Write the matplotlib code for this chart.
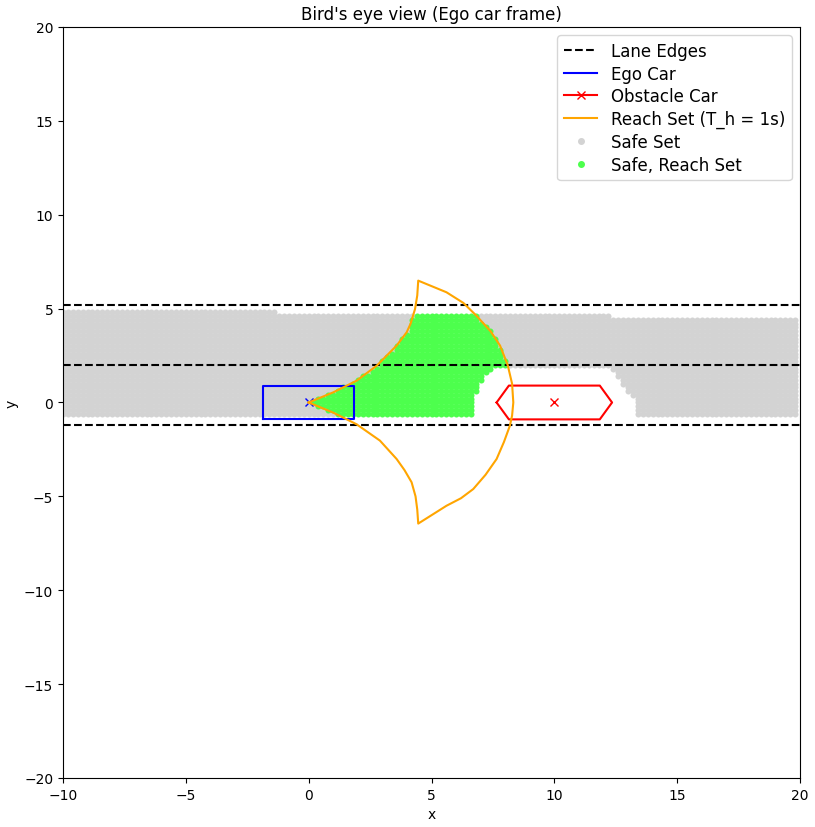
import matplotlib
matplotlib.use("Agg")
import matplotlib.pyplot as plt
import numpy as np
from matplotlib.path import Path
from matplotlib.lines import Line2D

# lane edges (y)
lane_edges = [5.2, 2.0, -1.2]

# ego car box
ego_x = [-1.85, 1.85, 1.85, -1.85, -1.85]
ego_y = [-0.9, -0.9, 0.9, 0.9, -0.9]

# obstacle car (hexagon) + centre
obs_x = [7.65, 8.15, 11.85, 12.35, 11.85, 8.15, 7.65]
obs_y = [0.0, 0.9, 0.9, 0.0, -0.9, -0.9, 0.0]
obs_center = (10.0, 0.0)

# reach set outline (T_h = 1s)
reach_x = [0.0, 1.0, 1.95, 2.77, 3.58, 3.99, 4.15, 4.33, 4.42, 4.46,
           5.61, 6.3, 6.83, 7.4, 7.79, 8.1, 8.28, 8.33,
           8.28, 8.19, 7.95, 7.65, 7.2, 6.7, 6.2, 5.61, 4.46,
           4.42, 4.35, 4.19, 3.9, 3.58, 2.9, 1.95, 1.0, 0.0]
reach_y = [0.0, 0.54, 1.16, 1.96, 3.03, 3.74, 4.2, 4.98, 5.7, 6.49,
           5.87, 5.3, 4.62, 3.8, 3.03, 2.0, 1.0, 0.0,
           -0.7, -1.24, -2.1, -3.01, -3.85, -4.61, -5.1, -5.5, -6.45,
           -5.7, -5.0, -4.25, -3.6, -3.01, -2.03, -1.16, -0.54, 0.0]

# safe set grid: columns / rows, top row limit per x segment
grid_x = np.arange(-10.0, 19.85, 0.2)
grid_y = np.arange(-0.6, 4.85, 0.2)
top_seg_x = [-1.3, 12.3, 99.0]   # segment right ends
top_seg_y = [4.8, 4.6, 4.4]      # top row per segment

# region removed around obstacle car
excl_x = [6.7, 6.7, 6.95, 7.15, 7.45, 7.8, 12.35, 12.6, 13.0, 13.35, 13.35]
excl_y = [-1.0, 0.3, 1.05, 1.55, 1.85, 1.9, 1.9, 1.25, 0.55, 0.0, -1.0]

gx, gy = np.meshgrid(grid_x, grid_y)
gx = gx.ravel()
gy = gy.ravel()
top = np.array(top_seg_y)[np.searchsorted(top_seg_x, gx)]
keep = gy <= top + 1e-6
excl = Path(np.column_stack([excl_x, excl_y]))
keep &= ~excl.contains_points(np.column_stack([gx, gy]))
sx, sy = gx[keep], gy[keep]
reach = Path(np.column_stack([reach_x, reach_y]))
inr = reach.contains_points(np.column_stack([sx, sy]))

fig = plt.figure(figsize=(8.15, 8.28), dpi=100)
ax = fig.add_axes([0.0773, 0.0592, 0.9043, 0.907])

green = "#4dff4d"
ax.scatter(sx[~inr], sy[~inr], s=19, color="lightgray", linewidths=0, zorder=1)
ax.scatter(sx[inr], sy[inr], s=19, color=green, linewidths=0, zorder=2)

for ly in lane_edges:
    ax.axhline(ly, color="k", linestyle="--", linewidth=1.5, zorder=3)
ax.plot(ego_x, ego_y, "b-", linewidth=1.5, zorder=4)
ax.plot(0, 0, "bx", zorder=4)
ax.plot(obs_x, obs_y, "r-", linewidth=1.5, zorder=4)
ax.plot(*obs_center, "rx", zorder=4)
ax.plot(reach_x, reach_y, color="orange", linewidth=1.5, zorder=5)

handles = [
    Line2D([], [], color="k", linestyle="--", linewidth=1.5, label="Lane Edges"),
    Line2D([], [], color="b", linewidth=1.5, label="Ego Car"),
    Line2D([], [], color="r", marker="x", linewidth=1.5, label="Obstacle Car"),
    Line2D([], [], color="orange", linewidth=1.5, label="Reach Set (T_h = 1s)"),
    Line2D([], [], color="lightgray", marker="o", markersize=4, linestyle="none", label="Safe Set"),
    Line2D([], [], color=green, marker="o", markersize=4, linestyle="none", label="Safe, Reach Set"),
]
ax.legend(handles=handles, loc="upper right", fontsize=12, labelspacing=0.28)

ax.set_xlim(-10, 20)
ax.set_ylim(-20, 20)
ax.set_title("Bird's eye view (Ego car frame)")
ax.set_xlabel("x")
ax.set_ylabel("y")

fig.savefig("out.png", dpi=100)
